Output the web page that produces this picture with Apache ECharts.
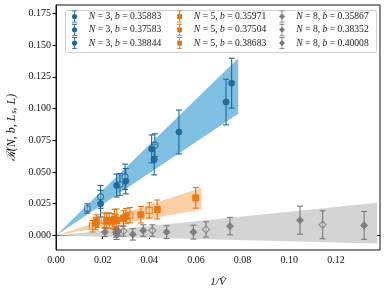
<!DOCTYPE html>
<html><head><meta charset="utf-8">
<script src="https://cdn.jsdelivr.net/npm/echarts@6/dist/echarts.min.js"></script>
<style>html,body{margin:0;padding:0;background:#fff}#c{width:388px;height:291px}</style>
</head><body><div id="c"></div>
<script>
// ---------- data ----------
const xTicks = [0, 0.02, 0.04, 0.06, 0.08, 0.10, 0.12];
const yTicks = [0, 0.025, 0.05, 0.075, 0.1, 0.125, 0.15, 0.175];

// N = 3
const n3b1X = [0.0134, 0.0191, 0.0274, 0.0296, 0.0424];
const n3b1Y = [0.0212, 0.0304, 0.0401, 0.0462, 0.0711];
const n3b1E = [0.0037, 0.0090, 0.0085, 0.0100, 0.0090];
const n3b2X = [0.0191, 0.0260, 0.0410, 0.0527, 0.0753];
const n3b2Y = [0.0250, 0.0393, 0.0682, 0.0815, 0.1200];
const n3b2E = [0.0105, 0.0090, 0.0110, 0.0173, 0.0197];
const n3b3X = [0.0299, 0.0421, 0.0729];
const n3b3Y = [0.0427, 0.0597, 0.1051];
const n3b3E = [0.0100, 0.0120, 0.0180];
// N = 5
const n5b1X = [0.0156, 0.0207, 0.0257, 0.0317, 0.0400];
const n5b1Y = [0.0073, 0.0118, 0.0094, 0.0160, 0.0197];
const n5b1E = [0.0045, 0.0060, 0.0070, 0.0060, 0.0060];
const n5b2X = [0.0170, 0.0228, 0.0260, 0.0300, 0.0364, 0.0599];
const n5b2Y = [0.0094, 0.0118, 0.0118, 0.0152, 0.0163, 0.0296];
const n5b2E = [0.0050, 0.0060, 0.0090, 0.0060, 0.0065, 0.0081];
const n5b3X = [0.0174, 0.0217, 0.0241, 0.0250, 0.0289, 0.0434];
const n5b3Y = [0.0112, 0.0112, 0.0112, 0.0126, 0.0134, 0.0204];
const n5b3E = [0.0050, 0.0060, 0.0060, 0.0080, 0.0060, 0.0075];
// N = 8
const n8b1X = [0.0289, 0.0413, 0.0643, 0.1143];
const n8b1Y = [0.0034, 0.0039, 0.0047, 0.0084];
const n8b1E = [0.0040, 0.0045, 0.0060, 0.0110];
const n8b2X = [0.0210, 0.0257, 0.0329, 0.0474, 0.0746, 0.1046];
const n8b2Y = [0.0026, 0.0026, 0.0008, 0.0026, 0.0073, 0.0120];
const n8b2E = [0.0035, 0.0040, 0.0045, 0.0050, 0.0069, 0.0110];
const n8b3X = [0.0260, 0.0267, 0.0374, 0.0589, 0.1321];
const n8b3Y = [0.0008, 0.0034, 0.0039, 0.0026, 0.0079];
const n8b3E = [0.0040, 0.0040, 0.0045, 0.0055, 0.0110];

// fit bands
const band3X = [0, 0.0781], band3Lo = [0, 0.0959], band3Hi = [0, 0.1397];
const band5X = [0, 0.0624], band5Lo = [0, 0.0204], band5Hi = [0, 0.0375];
const band8X = [0, 0.1377], band8Lo = [0, -0.0063], band8Hi = [0, 0.0257];

const names = [
  ['N = 3, b = 0.35883', 'N = 3, b = 0.37583', 'N = 3, b = 0.38844'],
  ['N = 5, b = 0.35971', 'N = 5, b = 0.37504', 'N = 5, b = 0.38683'],
  ['N = 8, b = 0.35867', 'N = 8, b = 0.38352', 'N = 8, b = 0.40008']
];

// ---------- styles ----------
const FONT = 'Liberation Serif';
const cols = ['#1f6796', '#e8740d', '#7a7a7a'];
const bandCols = ['#7fbfe2', '#fdcfa6', '#d4d4d4'];
const syms = ['circle', 'rect', 'diamond'];
const symSize = [6, 6, 7];

const groups = [
  [[n3b1X, n3b1Y, n3b1E], [n3b2X, n3b2Y, n3b2E], [n3b3X, n3b3Y, n3b3E]],
  [[n5b1X, n5b1Y, n5b1E], [n5b2X, n5b2Y, n5b2E], [n5b3X, n5b3Y, n5b3E]],
  [[n8b1X, n8b1Y, n8b1E], [n8b2X, n8b2Y, n8b2E], [n8b3X, n8b3Y, n8b3E]]
];
const bands = [[band3X, band3Lo, band3Hi], [band5X, band5Lo, band5Hi], [band8X, band8Lo, band8Hi]];

const series = [];
bands.forEach((b, gi) => {
  const [bx, lo, hi] = b;
  series.push({
    type: 'custom', silent: true, z: 1,
    data: [[bx[0], lo[0], hi[0]]],
    renderItem: (params, api) => {
      const pts = [];
      for (let i = 0; i < bx.length; i++) pts.push(api.coord([bx[i], hi[i]]));
      for (let i = bx.length - 1; i >= 0; i--) pts.push(api.coord([bx[i], lo[i]]));
      return { type: 'polygon', shape: { points: pts }, style: { fill: bandCols[gi] } };
    }
  });
});

groups.forEach((g, gi) => {
  g.forEach((s, bi) => {
    const [xs, ys, es] = s;
    const data = xs.map((x, i) => [x, ys[i], es[i]]);
    series.push({
      type: 'custom', name: names[gi][bi], z: 3, silent: true,
      data: data,
      renderItem: (params, api) => {
        const x = api.value(0), y = api.value(1), e = api.value(2);
        const t = api.coord([x, y + e]), b = api.coord([x, y - e]);
        const st = { stroke: cols[gi], lineWidth: 1.1 };
        const c = 3;
        return { type: 'group', children: [
          { type: 'line', shape: { x1: t[0], y1: t[1], x2: b[0], y2: b[1] }, style: st },
          { type: 'line', shape: { x1: t[0] - c, y1: t[1], x2: t[0] + c, y2: t[1] }, style: st },
          { type: 'line', shape: { x1: b[0] - c, y1: b[1], x2: b[0] + c, y2: b[1] }, style: st }
        ] };
      }
    });
    series.push({
      type: 'scatter', name: names[gi][bi], z: 4, silent: true,
      symbol: syms[gi], symbolSize: symSize[gi],
      data: data.map(d => [d[0], d[1]]),
      itemStyle: bi === 0
        ? { color: 'rgba(255,255,255,0.3)', borderColor: cols[gi], borderWidth: 1.2 }
        : { color: cols[gi], borderColor: cols[gi], borderWidth: 1, opacity: 0.9 }
    });
  });
});

// legend icons: error bar + marker
const barPath = 'M2,0H8V1H2ZM4.5,1H5.5V13H4.5ZM2,13H8V14H2Z';
const markPaths = [
  'M5,4A3,3 0 1,1 4.99,4Z',
  'M2.2,4.2H7.8V9.8H2.2Z',
  'M5,3.5L8.5,7L5,10.5L1.5,7Z'
];
const legends = names.map((ns, gi) => ({
  orient: 'vertical', left: [72, 177, 279][gi], top: 10.5, padding: 0, z: 8,
  itemWidth: 9, itemHeight: 12, itemGap: 1.3,
  data: ns.map(n => ({ name: n, icon: 'path://' + barPath + markPaths[gi],
    itemStyle: { color: cols[gi], borderWidth: 0 } })),
  formatter: n => '  ' + n.replace('N', '{i|N}').replace('b', '{i|b}'),
  textStyle: { fontFamily: FONT, fontSize: 9.6, color: '#222',
    rich: { i: { fontFamily: FONT, fontStyle: 'italic', fontSize: 9.6, color: '#222' } } }
}));

const chart = echarts.init(document.getElementById('c'), null, { renderer: 'canvas' });
chart.setOption({
  animation: false,
  backgroundColor: '#fff',
  grid: { left: 56, right: 8, top: 5, bottom: 41, outerBoundsMode: 'none', containLabel: false,
    show: true, borderColor: '#111', borderWidth: 1, backgroundColor: 'transparent', z: 10 },
  graphic: [{ type: 'rect', left: 65, top: 10, shape: { width: 311, height: 42, r: 2 },
    style: { fill: 'rgba(255,255,255,0.85)', stroke: '#d0d0d0', lineWidth: 1 }, z: 2 }],
  legend: legends,
  xAxis: {
    type: 'value', min: 0, max: 0.1389,
    name: '1/V\u0302', nameLocation: 'middle', nameGap: 27,
    nameTextStyle: { fontFamily: FONT, fontSize: 11, fontStyle: 'italic', color: '#111' },
    axisLine: { show: true, lineStyle: { color: '#111', width: 1 } },
    axisTick: { show: true, length: 3.5, lineStyle: { color: '#111' }, customValues: xTicks },
    axisLabel: { customValues: xTicks, formatter: v => v.toFixed(2), fontFamily: FONT, fontSize: 10, color: '#111', margin: 5 },
    splitLine: { show: false }
  },
  yAxis: {
    type: 'value', min: -0.0115, max: 0.1816,
    name: '\u211B(N, b, L\u209B, L)', nameLocation: 'middle', nameGap: 37, nameRotate: 90,
    nameTextStyle: { fontFamily: FONT, fontSize: 12, fontStyle: 'italic', color: '#111' },
    axisLine: { show: true, lineStyle: { color: '#111', width: 1 } },
    axisTick: { show: true, length: 3.5, lineStyle: { color: '#111' }, customValues: yTicks },
    axisLabel: { customValues: yTicks, formatter: v => v.toFixed(3), fontFamily: FONT, fontSize: 10, color: '#111', margin: 5 },
    splitLine: { show: false }
  },
  series: series
});
</script>
</body></html>
